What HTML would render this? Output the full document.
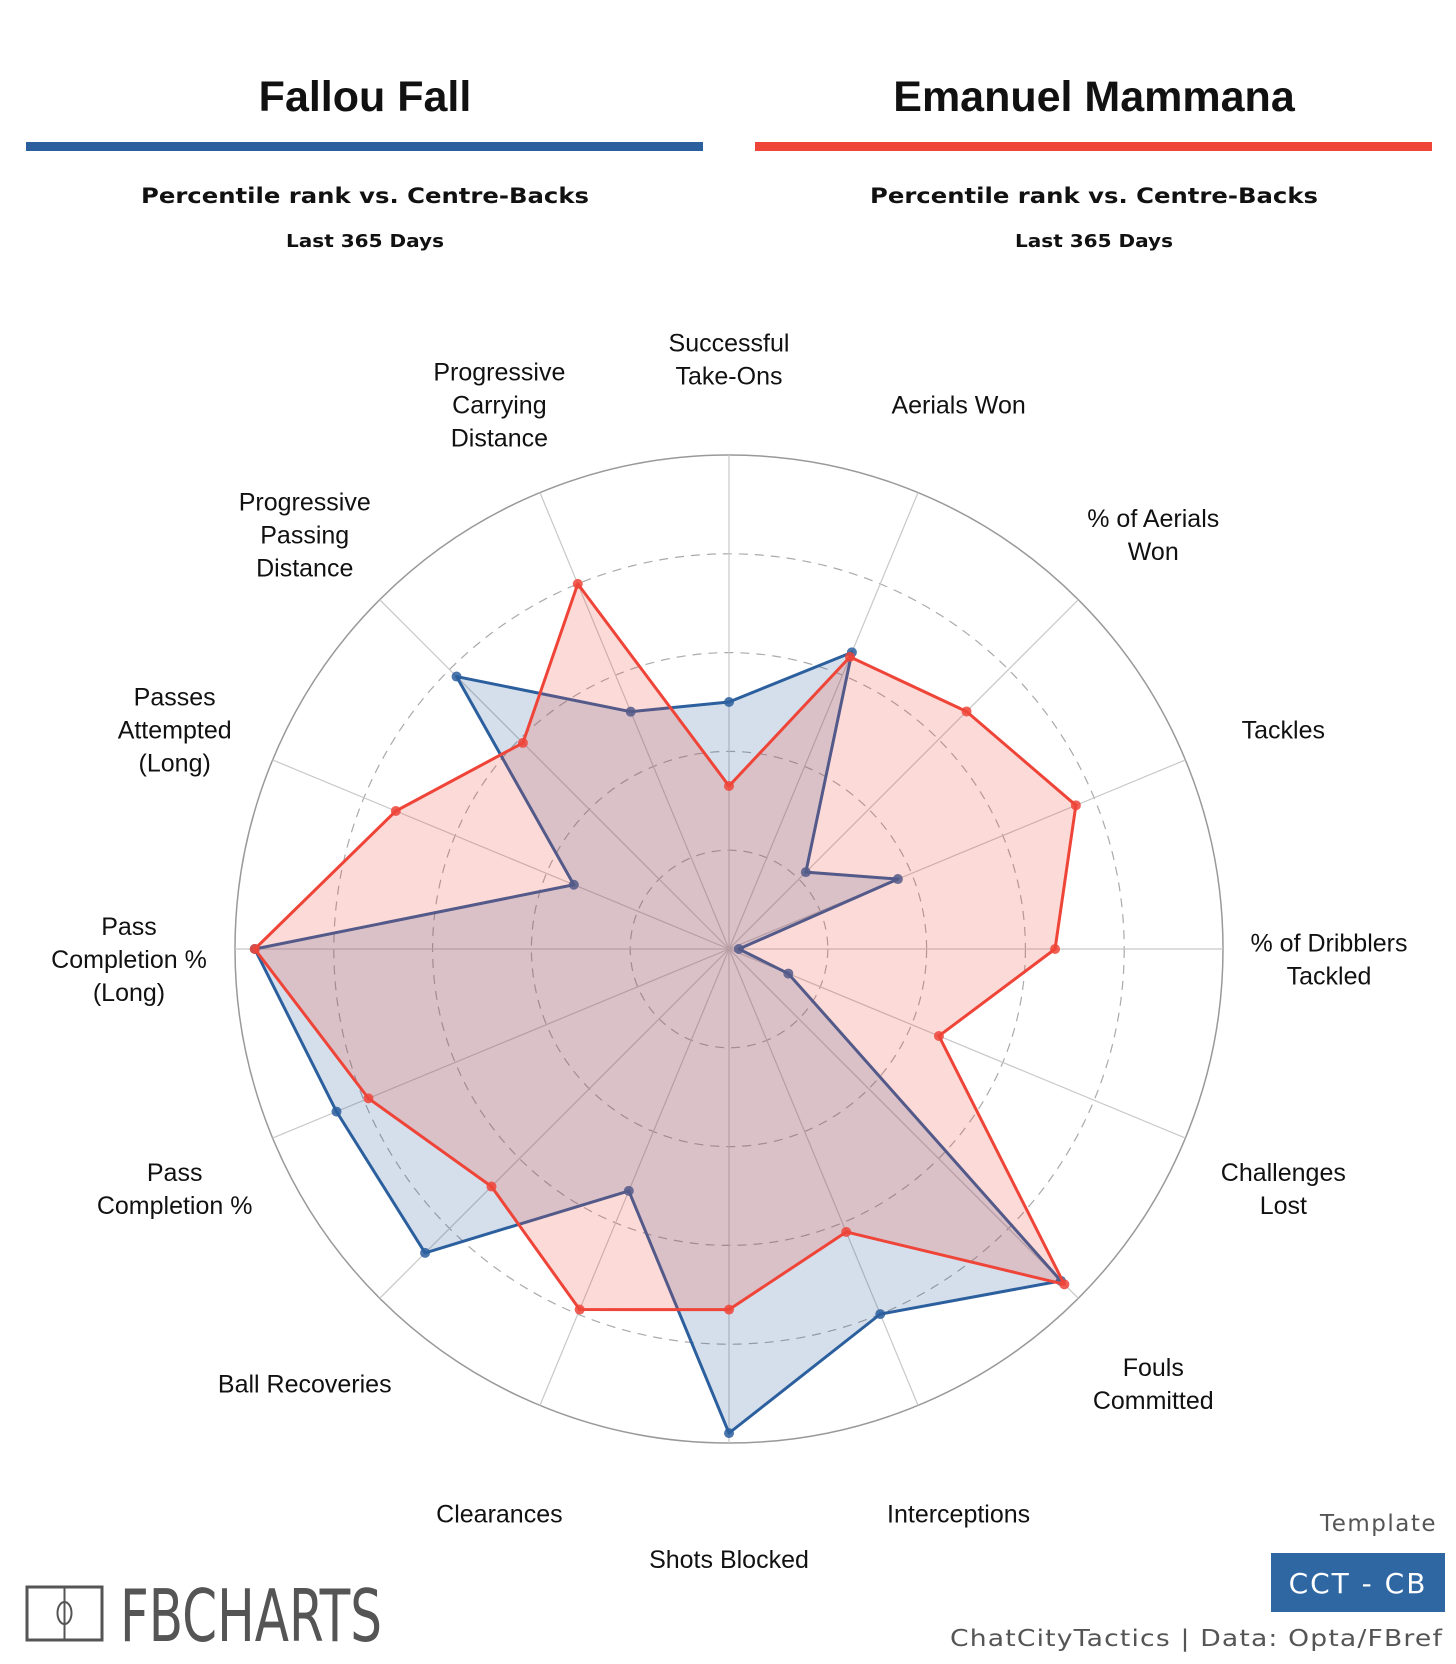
<!DOCTYPE html>
<html><head><meta charset="utf-8"><style>
html,body{margin:0;padding:0;background:#fff;}
svg{display:block;}
text{font-family:"Liberation Sans",sans-serif;}
</style></head><body>
<svg id="chart" width="1456" height="1664" viewBox="0 0 1456 1664" xmlns="http://www.w3.org/2000/svg">
<g>
<text x="365" y="111" text-anchor="middle" font-size="43" font-weight="bold" fill="#111">Fallou Fall</text>
<rect x="26" y="142" width="677" height="9" fill="#2c5f9e"/>
<text x="365" y="203" text-anchor="middle" font-size="21" font-weight="bold" fill="#111" style="font-family:'DejaVu Sans',sans-serif" textLength="448" lengthAdjust="spacingAndGlyphs">Percentile rank vs. Centre-Backs</text>
<text x="365" y="247" text-anchor="middle" font-size="18" font-weight="bold" fill="#111" style="font-family:'DejaVu Sans',sans-serif" textLength="158" lengthAdjust="spacingAndGlyphs">Last 365 Days</text>
<text x="1094" y="111" text-anchor="middle" font-size="43" font-weight="bold" fill="#111">Emanuel Mammana</text>
<rect x="755" y="142" width="677" height="9" fill="#ef4438"/>
<text x="1094" y="203" text-anchor="middle" font-size="21" font-weight="bold" fill="#111" style="font-family:'DejaVu Sans',sans-serif" textLength="448" lengthAdjust="spacingAndGlyphs">Percentile rank vs. Centre-Backs</text>
<text x="1094" y="247" text-anchor="middle" font-size="18" font-weight="bold" fill="#111" style="font-family:'DejaVu Sans',sans-serif" textLength="158" lengthAdjust="spacingAndGlyphs">Last 365 Days</text>
</g>
<g id="grid"></g>
<g id="series"></g>
<g id="labels"></g>
<g>
<g>
<rect x="27" y="1587" width="75" height="53" fill="none" stroke="#555" stroke-width="3"/>
<line x1="64.5" y1="1587" x2="64.5" y2="1640" stroke="#555" stroke-width="2"/>
<ellipse cx="64.5" cy="1613" rx="7" ry="11" fill="none" stroke="#555" stroke-width="2"/>
<text x="120" y="1641" font-size="72" fill="#555" style="font-family:'DejaVu Sans Condensed','DejaVu Sans',sans-serif" textLength="262" lengthAdjust="spacingAndGlyphs">FBCHARTS</text>
</g>
<text x="1437" y="1531" text-anchor="end" font-size="23" fill="#555" style="font-family:'DejaVu Sans',sans-serif" letter-spacing="1.5">Template</text>
<rect x="1271" y="1553" width="174" height="59" fill="#2f67a3"/>
<text x="1358" y="1593" text-anchor="middle" font-size="28" fill="#fff" style="font-family:'DejaVu Sans',sans-serif" letter-spacing="2">CCT - CB</text>
<text x="1443" y="1646" text-anchor="end" font-size="23" fill="#555" style="font-family:'DejaVu Sans',sans-serif" letter-spacing="1" textLength="493" lengthAdjust="spacingAndGlyphs">ChatCityTactics | Data: Opta/FBref</text>
</g>
</svg>
<script>
const categories = [
 ["Successful","Take-Ons"],["Aerials Won"],["% of Aerials","Won"],["Tackles"],
 ["% of Dribblers","Tackled"],["Challenges","Lost"],["Fouls","Committed"],["Interceptions"],
 ["Shots Blocked"],["Clearances"],["Ball Recoveries"],["Pass","Completion %"],
 ["Pass","Completion %","(Long)"],["Passes","Attempted","(Long)"],["Progressive","Passing","Distance"],["Progressive","Carrying","Distance"]
];
const fallouValues = [50,65,22,37,2,13,95,80,98,53,87,86,96,34,78,52];
const mammanaValues = [33,64,68,76,66,46,96,62,73,79,68,79,96,73,59,80];
const ringTicks = [20,40,60,80];

const NS="http://www.w3.org/2000/svg";
const cx=729, cy=949, R=494, labelR=600;
function ang(i){return -Math.PI/2 + i*2*Math.PI/categories.length;}
function pt(i,v){const a=ang(i);return [cx+R*v/100*Math.cos(a), cy+R*v/100*Math.sin(a)];}
function mk(tag,attrs,parent){const e=document.createElementNS(NS,tag);for(const k in attrs)e.setAttribute(k,attrs[k]);parent.appendChild(e);return e;}
const grid=document.getElementById('grid');
ringTicks.forEach(t=>{
 const c=mk('circle',{cx:cx,cy:cy,r:R*t/100,fill:'none',stroke:'#aaa','stroke-width':1.2,'stroke-dasharray':'9 7'},grid);
 
 
});
const outer=mk('circle',{cx:cx,cy:cy,r:R,fill:'none',stroke:'#999','stroke-width':1.5},grid);


categories.forEach((c,i)=>{
 const p=pt(i,100);
 const l=mk('line',{x1:cx,y1:cy,x2:p[0],y2:p[1],stroke:'#c8c8c8','stroke-width':1.2},grid);
 
 
});
const series=document.getElementById('series');
function drawSeries(vals,color,fill,name){
 const pts=vals.map((v,i)=>pt(i,v));
 const poly=mk('polygon',{points:pts.map(p=>p.join(',')).join(' '),fill:fill,stroke:color,'stroke-width':3,'stroke-linejoin':'round'},series);
 
 
 pts.forEach(p=>{
  const d=mk('circle',{cx:p[0],cy:p[1],r:5,fill:color,'fill-opacity':0.85},series);
  
  
 });
}
drawSeries(fallouValues,'#2c5f9e','rgba(44,95,158,0.2)','fallou-fall');
drawSeries(mammanaValues,'#ef4438','rgba(239,68,56,0.2)','emanuel-mammana');
const labels=document.getElementById('labels');
categories.forEach((lines,i)=>{
 const a=ang(i);const x=cx+labelR*Math.cos(a), y=cy+labelR*Math.sin(a);
 const lh=33;const y0=y-(lines.length-1)*lh/2+19;
 const t=mk('text',{x:x,y:y0,'text-anchor':'middle','font-size':25,fill:'#111'},labels);
 
 
 lines.forEach((ln,j)=>{const s=mk('tspan',{x:x,y:y0+j*lh},t);s.textContent=ln;});
});
</script>
</body></html>
